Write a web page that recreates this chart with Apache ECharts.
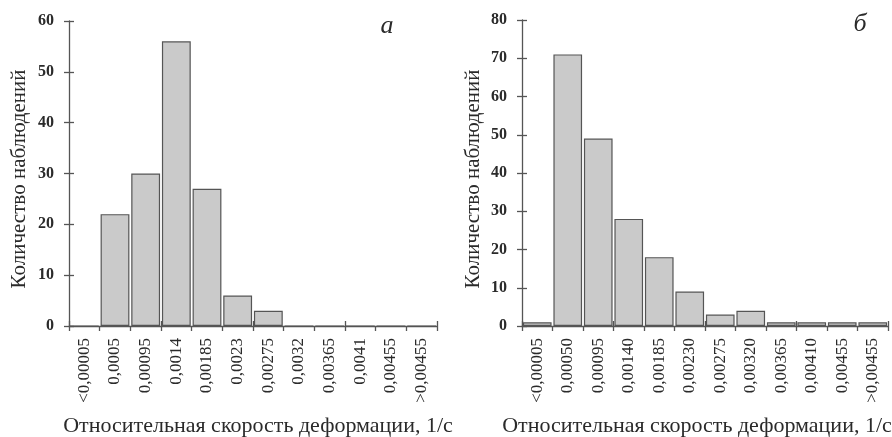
<!DOCTYPE html>
<html>
<head>
<meta charset="utf-8">
<script src="https://cdn.jsdelivr.net/npm/echarts@6/dist/echarts.min.js"></script>
<style>
  html, body { margin: 0; padding: 0; background: #fff; }
  #chart { width: 892px; height: 437px; }
</style>
</head>
<body>
<div id="chart"></div>
<script>
// Bin labels (strain-rate classes, 1/s) and observation counts for the two panels
const binsA = ['<0,00005', '0,0005', '0,00095', '0,0014', '0,00185', '0,0023', '0,00275', '0,0032', '0,00365', '0,0041', '0,00455', '>0,00455'];
const countsA = [0, 22, 30, 56, 27, 6, 3, 0, 0, 0, 0, 0];

const binsB = ['<0,00005', '0,00050', '0,00095', '0,00140', '0,00185', '0,00230', '0,00275', '0,00320', '0,00365', '0,00410', '0,00455', '>0,00455'];
const countsB = [1, 71, 49, 28, 18, 9, 3, 4, 1, 1, 1, 1];

const yMaxA = 60;
const yMaxB = 80;
const yStep = 10;

const yTitle = 'Количество наблюдений';
const xTitle = 'Относительная скорость деформации, 1/с';
const panelA = 'а';
const panelB = 'б';

const FONT = '"Liberation Serif", "DejaVu Serif", serif';
const AXIS_COLOR = '#555';
const TEXT_COLOR = '#2a2a2a';

const grids = [
  { left: 69, top: 21, width: 368, height: 305 },
  { left: 522, top: 20, width: 366, height: 306 }
];

// Each axis is drawn twice (outward + inward ticks) so the ticks cross the line
function xAxes(gridIndex, bins) {
  return [
    {
      type: 'category', gridIndex, data: bins, position: 'bottom',
      axisLine: { lineStyle: { color: AXIS_COLOR, width: 1.3 } },
      axisTick: { show: true, length: 5, lineStyle: { color: AXIS_COLOR, width: 1.3 } },
      axisLabel: {
        rotate: 90, margin: 12, interval: 0,
        fontFamily: FONT, fontSize: 17, color: TEXT_COLOR
      }
    },
    {
      type: 'category', gridIndex, data: bins, position: 'bottom',
      axisLine: { show: false },
      axisTick: { show: true, inside: true, length: 5, lineStyle: { color: AXIS_COLOR, width: 1.3 } },
      axisLabel: { show: false }
    }
  ];
}

function yAxes(gridIndex, max) {
  return [
    {
      type: 'value', gridIndex, min: 0, max, interval: yStep, position: 'left',
      splitLine: { show: false },
      axisLine: { show: true, lineStyle: { color: AXIS_COLOR, width: 1.3 } },
      axisTick: { show: true, length: 5, lineStyle: { color: AXIS_COLOR, width: 1.3 } },
      axisLabel: { margin: 15, fontFamily: FONT, fontSize: 16, color: TEXT_COLOR, fontWeight: 'bold' }
    },
    {
      type: 'value', gridIndex, min: 0, max, interval: yStep, position: 'left',
      splitLine: { show: false },
      axisLine: { show: false },
      axisTick: { show: true, inside: true, length: 5, lineStyle: { color: AXIS_COLOR, width: 1.3 } },
      axisLabel: { show: false }
    }
  ];
}

function barSeries(xIdx, yIdx, data) {
  return {
    type: 'bar', xAxisIndex: xIdx, yAxisIndex: yIdx, data,
    barCategoryGap: '6%',
    itemStyle: { color: '#cacaca', borderColor: '#555', borderWidth: 1.2 },
    silent: true
  };
}

function titleText(x, y, text, font, rotation) {
  return {
    type: 'text', x, y, rotation: rotation || 0,
    style: { text, font, fill: TEXT_COLOR, align: 'center', verticalAlign: 'middle' }
  };
}

const chart = echarts.init(document.getElementById('chart'), null, { renderer: 'canvas' });

chart.setOption({
  backgroundColor: '#fff',
  animation: false,
  grid: grids,
  xAxis: [...xAxes(0, binsA), ...xAxes(1, binsB)],
  yAxis: [...yAxes(0, yMaxA), ...yAxes(1, yMaxB)],
  series: [barSeries(0, 0, countsA), barSeries(2, 2, countsB)],
  graphic: [
    titleText(19, 179, yTitle, '21px ' + FONT, Math.PI / 2),
    titleText(473, 179, yTitle, '21px ' + FONT, Math.PI / 2),
    titleText(258, 426, xTitle, '22px ' + FONT),
    titleText(697, 426, xTitle, '22px ' + FONT),
    titleText(387, 26, panelA, 'italic 26px ' + FONT),
    titleText(860, 24, panelB, 'italic 26px ' + FONT)
  ]
});
</script>
</body>
</html>
